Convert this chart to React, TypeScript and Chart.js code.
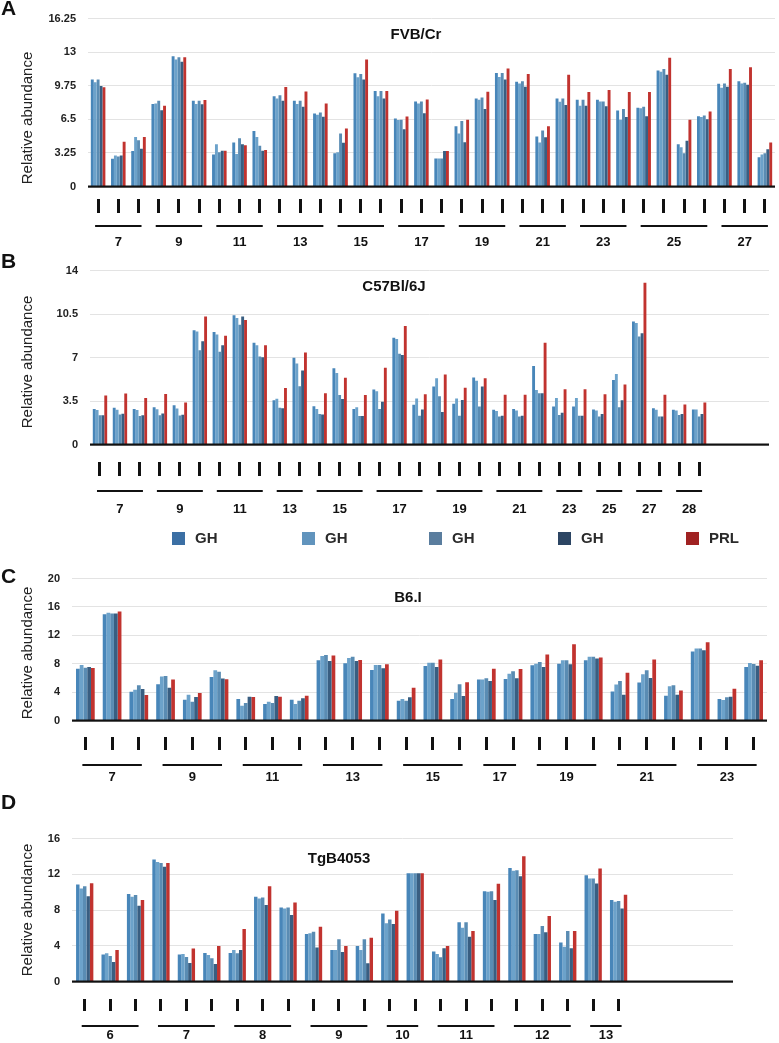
import React, { useEffect, useRef } from 'react';
import { Chart, registerables } from 'chart.js';
Chart.register(...registerables);

const FONT = "'Liberation Sans', Arial, Helvetica, sans-serif";
const SERIES_NAMES = ['GH', 'GH', 'GH', 'GH', 'PRL'];
const BAR_COLORS = ['#4886b9', '#6ca2ca', '#5a8cb3', '#395e81', '#c1332f'];
const LEGEND_COLORS = ['#3b6fa4', '#6194bd', '#5a7d9e', '#2c4563', '#a02222'];
const Y_TITLE = 'Relative abundance';

// ---------- Panel A : FVB/Cr ----------
const A_TITLE = 'FVB/Cr';
const A_Y_TICKS = [0, 3.25, 6.5, 9.75, 13, 16.25];
const A_GROUP_LABELS = ['7', '9', '11', '13', '15', '17', '19', '21', '23', '25', '27'];
const A_GROUP_SIZES = [3, 3, 3, 3, 3, 3, 3, 3, 3, 4, 3];
const A_GH1 = [10.35, 2.68, 3.44, 7.98, 12.6, 8.3, 3.09, 4.26, 5.36, 8.74, 8.3, 7.07, 3.22, 10.95, 9.24, 6.59, 8.23, 2.71, 5.84, 8.52, 10.98, 10.13, 4.83, 8.52, 8.39, 8.39, 7.35, 7.63, 11.23, 4.1, 6.81, 9.94, 10.19, 2.84];
const A_GH2 = [10.1, 3.0, 4.8, 8.04, 12.3, 7.98, 4.1, 3.15, 4.8, 8.52, 7.98, 6.94, 3.31, 10.57, 8.74, 6.43, 8.04, 2.71, 5.14, 8.39, 10.6, 9.97, 4.26, 8.2, 7.82, 8.23, 6.47, 7.57, 11.1, 3.79, 6.72, 9.56, 9.97, 3.09];
const A_GH3 = [10.35, 2.9, 4.48, 8.3, 12.5, 8.3, 3.31, 4.67, 3.94, 8.83, 8.3, 7.16, 5.14, 10.88, 9.24, 6.46, 8.23, 2.71, 6.34, 8.61, 10.98, 10.19, 5.43, 8.52, 8.39, 8.23, 7.5, 7.73, 11.36, 3.22, 6.88, 9.97, 10.03, 3.22];
const A_GH4 = [9.72, 3.0, 3.66, 7.38, 12.08, 7.95, 3.47, 4.1, 3.47, 8.3, 7.73, 6.75, 4.23, 10.35, 8.52, 5.55, 7.1, 3.44, 4.29, 7.5, 10.35, 9.65, 4.76, 7.89, 7.82, 7.76, 6.72, 6.81, 10.82, 4.42, 6.5, 9.65, 9.84, 3.6];
const A_PRL = [9.6, 4.32, 4.8, 7.82, 12.5, 8.36, 3.47, 4.0, 3.53, 9.62, 9.2, 8.04, 5.62, 12.3, 9.24, 6.78, 8.42, 3.44, 6.47, 9.18, 11.42, 10.88, 5.84, 10.82, 9.15, 9.34, 9.15, 9.15, 12.46, 6.47, 7.26, 11.36, 11.55, 4.26];

// ---------- Panel B : C57Bl/6J ----------
const B_TITLE = 'C57Bl/6J';
const B_Y_TICKS = [0, 3.5, 7, 10.5, 14];
const B_GROUP_LABELS = ['7', '9', '11', '13', '15', '17', '19', '21', '23', '25', '27', '28'];
const B_GROUP_SIZES = [3, 3, 3, 2, 3, 3, 3, 3, 2, 2, 2, 2];
const B_GH1 = [2.86, 2.95, 2.86, 3.0, 3.16, 9.2, 9.06, 10.41, 8.2, 3.57, 6.99, 3.07, 6.14, 2.86, 4.42, 8.6, 3.2, 4.66, 3.29, 5.4, 2.79, 2.85, 6.32, 3.06, 3.06, 2.82, 5.19, 9.91, 2.91, 2.79, 2.82];
const B_GH2 = [2.77, 2.8, 2.77, 2.83, 2.89, 9.09, 8.85, 10.18, 7.99, 3.69, 6.52, 2.86, 5.75, 3.0, 4.28, 8.49, 3.71, 5.34, 3.71, 5.13, 2.7, 2.73, 4.39, 3.74, 3.74, 2.73, 5.67, 9.79, 2.79, 2.73, 2.82];
const B_GH3 = [2.36, 2.42, 2.3, 2.36, 2.33, 7.58, 7.46, 9.65, 7.08, 2.95, 4.69, 2.45, 3.98, 2.3, 2.86, 7.3, 2.31, 3.89, 2.31, 3.06, 2.26, 2.26, 4.12, 2.37, 2.31, 2.26, 3.0, 8.69, 2.26, 2.37, 2.26];
const B_GH4 = [2.36, 2.48, 2.36, 2.5, 2.39, 8.32, 7.99, 10.3, 7.02, 2.92, 5.95, 2.42, 3.66, 2.3, 3.45, 7.2, 2.82, 2.61, 3.59, 4.66, 2.31, 2.31, 4.12, 2.55, 2.31, 2.46, 3.56, 8.96, 2.26, 2.46, 2.46];
const B_PRL = [3.95, 4.1, 3.75, 4.07, 3.39, 10.3, 8.76, 10.03, 7.99, 4.54, 7.4, 4.13, 5.37, 3.98, 6.17, 9.55, 4.04, 5.64, 4.57, 5.34, 4.0, 4.0, 8.19, 4.45, 4.45, 4.04, 4.84, 13.03, 4.0, 3.23, 3.38];

// ---------- Panel C : B6.I ----------
const C_TITLE = 'B6.I';
const C_Y_TICKS = [0, 4, 8, 12, 16, 20];
const C_GROUP_LABELS = ['7', '9', '11', '13', '15', '17', '19', '21', '23'];
const C_GROUP_SIZES = [3, 3, 3, 3, 3, 2, 3, 3, 3];
const C_GH1 = [7.3, 14.98, 4.05, 5.12, 2.93, 6.14, 3.02, 2.33, 2.93, 8.47, 8.05, 7.12, 2.79, 7.67, 3.02, 5.77, 5.86, 7.77, 8.0, 8.47, 4.09, 5.35, 3.49, 9.72, 3.02, 7.53];
const C_GH2 = [7.81, 15.16, 4.33, 6.19, 3.63, 7.07, 2.09, 2.65, 2.33, 9.07, 8.79, 7.81, 3.02, 8.14, 3.9, 5.77, 6.6, 8.0, 8.47, 8.98, 5.07, 6.51, 4.84, 10.14, 2.88, 8.09];
const C_GH3 = [7.44, 15.07, 4.98, 6.28, 2.65, 6.88, 2.47, 2.47, 2.79, 9.21, 8.98, 7.81, 2.79, 8.14, 5.12, 5.95, 6.93, 8.23, 8.47, 8.98, 5.58, 7.07, 4.98, 10.14, 3.26, 7.95];
const C_GH4 = [7.53, 15.07, 4.42, 4.6, 3.3, 5.9, 3.35, 3.44, 3.12, 8.37, 8.37, 7.35, 3.26, 7.53, 3.44, 5.58, 5.95, 7.53, 7.91, 8.74, 3.63, 6.0, 3.63, 9.91, 3.35, 7.72];
const C_PRL = [7.4, 15.35, 3.58, 5.77, 3.86, 5.81, 3.3, 3.35, 3.49, 9.16, 8.51, 7.91, 4.6, 8.6, 5.4, 7.3, 7.26, 9.3, 10.74, 8.88, 6.74, 8.6, 4.23, 11.02, 4.47, 8.47];

// ---------- Panel D : TgB4053 ----------
const D_TITLE = 'TgB4053';
const D_Y_TICKS = [0, 4, 8, 12, 16];
const D_GROUP_LABELS = ['6', '7', '8', '9', '10', '11', '12', '13'];
const D_GROUP_SIZES = [3, 3, 3, 3, 2, 3, 3, 2];
const D_GH1 = [10.86, 3.01, 9.78, 13.64, 3.01, 3.2, 3.2, 9.48, 8.29, 5.32, 3.53, 3.98, 7.62, 12.1, 3.35, 6.62, 10.11, 12.71, 5.32, 4.35, 11.9, 9.11];
const D_GH2 = [10.41, 3.16, 9.48, 13.38, 3.09, 2.97, 3.53, 9.29, 8.18, 5.39, 3.53, 3.53, 6.51, 12.1, 3.09, 6.02, 10.04, 12.38, 5.32, 3.9, 11.52, 8.92];
const D_GH3 = [10.67, 2.86, 9.67, 13.27, 2.75, 2.6, 3.16, 9.41, 8.29, 5.58, 4.72, 4.72, 6.95, 12.1, 2.71, 6.62, 10.11, 12.45, 6.21, 5.65, 11.52, 9.0];
const D_GH4 = [9.55, 2.19, 8.48, 12.83, 2.08, 1.97, 3.53, 8.55, 7.43, 3.8, 3.31, 2.04, 6.43, 12.1, 3.72, 5.02, 9.11, 11.78, 5.5, 3.72, 10.97, 8.18];
const D_PRL = [11.0, 3.53, 9.11, 13.27, 3.68, 3.98, 5.87, 10.67, 8.85, 6.13, 3.98, 4.9, 7.92, 12.1, 3.98, 5.65, 10.93, 14.01, 7.32, 5.65, 12.64, 9.7];

type Panel = {
  letter: string;
  title: string;
  ticks: number[];
  groupLabels: string[];
  groupSizes: number[];
  series: number[][];
  slots: number;
  top: number;
  height: number;
  area: { left: number; right: number; top: number; bottom: number };
  catPct: number;
  titlePos: [number, number];
  yTitleY: number;
  letterY: number;
  markTop: number;
  markH: number;
  lineY: number;
  labelY: number;
};

const PANELS: Panel[] = [
  {
    letter: 'A', title: A_TITLE, ticks: A_Y_TICKS, groupLabels: A_GROUP_LABELS, groupSizes: A_GROUP_SIZES,
    series: [A_GH1, A_GH2, A_GH3, A_GH4, A_PRL], slots: 34,
    top: 0, height: 252, area: { left: 88, right: 775, top: 14.5, bottom: 186.5 }, catPct: 0.72,
    titlePos: [416, 35], yTitleY: 118, letterY: 9,
    markTop: 199, markH: 14, lineY: 225, labelY: 242,
  },
  {
    letter: 'B', title: B_TITLE, ticks: B_Y_TICKS, groupLabels: B_GROUP_LABELS, groupSizes: B_GROUP_SIZES,
    series: [B_GH1, B_GH2, B_GH3, B_GH4, B_PRL], slots: 34,
    top: 252, height: 268, area: { left: 90, right: 769, top: 261, bottom: 444.5 }, catPct: 0.72,
    titlePos: [394, 287], yTitleY: 362, letterY: 262,
    markTop: 462, markH: 14, lineY: 490, labelY: 509,
  },
  {
    letter: 'C', title: C_TITLE, ticks: C_Y_TICKS, groupLabels: C_GROUP_LABELS, groupSizes: C_GROUP_SIZES,
    series: [C_GH1, C_GH2, C_GH3, C_GH4, C_PRL], slots: 26,
    top: 520, height: 265, area: { left: 72, right: 767, top: 578.5, bottom: 720.5 }, catPct: 0.7,
    titlePos: [408, 598], yTitleY: 653, letterY: 577,
    markTop: 737, markH: 13, lineY: 764, labelY: 777,
  },
  {
    letter: 'D', title: D_TITLE, ticks: D_Y_TICKS, groupLabels: D_GROUP_LABELS, groupSizes: D_GROUP_SIZES,
    series: [D_GH1, D_GH2, D_GH3, D_GH4, D_PRL], slots: 26,
    top: 785, height: 258, area: { left: 72, right: 733, top: 838.5, bottom: 981.5 }, catPct: 0.68,
    titlePos: [339, 859], yTitleY: 910, letterY: 803,
    markTop: 999, markH: 12, lineY: 1025, labelY: 1035,
  },
];

function PanelChart({ p }: { p: Panel }) {
  const ref = useRef<HTMLCanvasElement>(null);
  useEffect(() => {
    const canvas = ref.current;
    if (!canvas) return;
    const labels = Array.from({ length: p.slots }, (_, i) => String(i + 1));
    const datasets = p.series.map((data, k) => ({
      label: SERIES_NAMES[k],
      data,
      backgroundColor: BAR_COLORS[k],
      categoryPercentage: p.catPct,
      barPercentage: 1,
      borderWidth: 0,
    }));
    const overlay = {
      id: 'overlay',
      afterDatasetsDraw(chart: any) {
        const ctx = chart.ctx as CanvasRenderingContext2D;
        const xs = chart.scales.x;
        const a = chart.chartArea;
        const off = p.top;
        ctx.save();
        // baseline
        ctx.fillStyle = '#111';
        ctx.fillRect(a.left, a.bottom - 1, a.right - a.left, 2.2);
        // sample marks
        const n = p.groupSizes.reduce((s, v) => s + v, 0);
        for (let i = 0; i < n; i++) {
          const cx = xs.getPixelForValue(i);
          ctx.fillRect(Math.round(cx - 1.5), p.markTop - off, 3, p.markH);
        }
        // group lines and labels
        let idx = 0;
        ctx.font = `bold 13px ${FONT}`;
        ctx.textAlign = 'center';
        ctx.textBaseline = 'middle';
        p.groupSizes.forEach((size, g) => {
          const x0 = xs.getPixelForValue(idx) - 3;
          const x1 = xs.getPixelForValue(idx + size - 1) + 3;
          ctx.fillRect(x0, p.lineY - off, x1 - x0, 2);
          ctx.fillText(p.groupLabels[g], (x0 + x1) / 2, p.labelY - off);
          idx += size;
        });
        // title
        ctx.fillStyle = '#111';
        ctx.font = `bold 15px ${FONT}`;
        ctx.fillText(p.title, p.titlePos[0], p.titlePos[1] - off);
        // panel letter
        ctx.textAlign = 'left';
        ctx.font = `bold 21px ${FONT}`;
        ctx.fillText(p.letter, 1, p.letterY - off);
        // y title
        ctx.translate(28, p.yTitleY - off);
        ctx.rotate(-Math.PI / 2);
        ctx.textAlign = 'center';
        ctx.fillStyle = '#222';
        ctx.font = `15px ${FONT}`;
        ctx.fillText(Y_TITLE, 0, 0);
        ctx.restore();
      },
    };
    const chart = new Chart(canvas, {
      type: 'bar',
      data: { labels, datasets },
      options: {
        animation: false,
        responsive: false,
        maintainAspectRatio: false,
        layout: {
          padding: {
            left: 0,
            right: 779 - p.area.right,
            top: p.area.top - p.top,
            bottom: p.top + p.height - p.area.bottom,
          },
        },
        plugins: { legend: { display: false }, tooltip: { enabled: false } },
        scales: {
          x: { type: 'category', display: false, offset: true },
          y: {
            min: 0,
            max: p.ticks[p.ticks.length - 1],
            afterFit: (s: any) => { s.width = p.area.left; },
            afterBuildTicks: (s: any) => { s.ticks = p.ticks.map((v) => ({ value: v })); },
            ticks: {
              padding: 12,
              color: '#222',
              font: { family: FONT, size: 11, weight: 'bold' },
              callback: (v: any) => String(v),
            },
            grid: {
              drawTicks: false,
              color: (c: any) => (c.tick && c.tick.value === 0 ? 'rgba(0,0,0,0)' : '#e3e3e3'),
              lineWidth: 1,
            },
            border: { display: false },
          },
        },
      } as any,
      plugins: [overlay],
    });
    return () => chart.destroy();
  }, [p]);
  return (
    <canvas
      ref={ref}
      width={779}
      height={p.height}
      style={{ position: 'absolute', left: 0, top: p.top, width: 779, height: p.height }}
    />
  );
}

const LEGEND_X = [172, 302, 429, 558, 686];

function Legend() {
  return (
    <div style={{ position: 'absolute', left: 0, top: 531, width: 779, height: 16 }}>
      {SERIES_NAMES.map((name, i) => (
        <div key={i} style={{ position: 'absolute', left: LEGEND_X[i], top: 0, height: 14, display: 'flex', alignItems: 'center' }}>
          <div style={{ width: 13, height: 13, background: LEGEND_COLORS[i] }} />
          <span style={{ marginLeft: 10, font: `bold 15px ${FONT}`, color: '#2a2a2a', lineHeight: '14px' }}>{name}</span>
        </div>
      ))}
    </div>
  );
}

export default function App() {
  return (
    <div style={{ position: 'absolute', left: 0, top: 0, width: 779, height: 1043, background: '#fff', overflow: 'hidden' }}>
      {PANELS.map((p) => (
        <PanelChart key={p.letter} p={p} />
      ))}
      <Legend />
    </div>
  );
}
